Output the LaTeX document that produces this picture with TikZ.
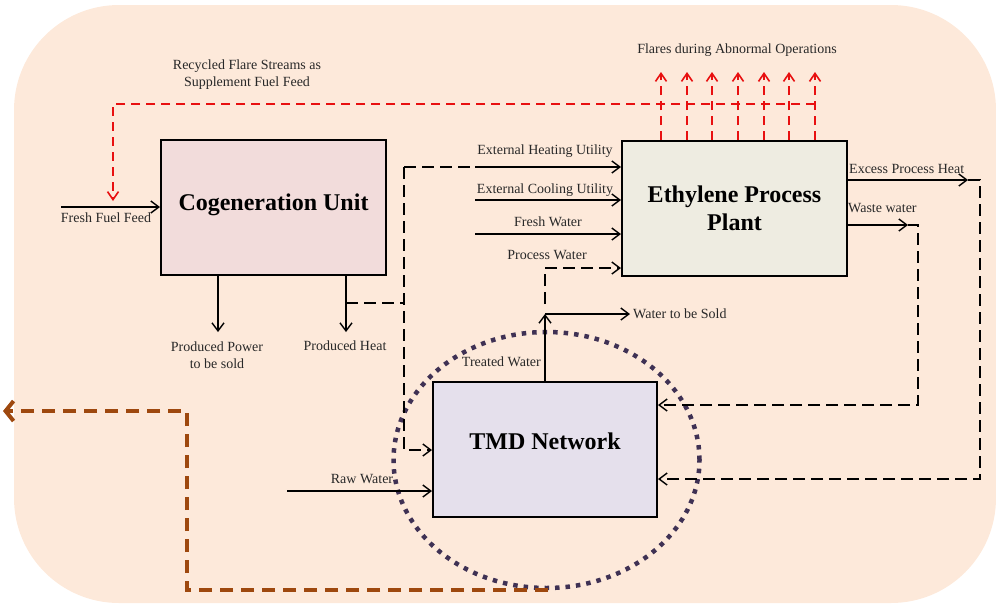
\documentclass[tikz,border=0pt]{standalone}
\usepackage{fontspec}
\setmainfont{Liberation Serif}
\usetikzlibrary{arrows.meta,shapes.geometric}
\definecolor{bgpeach}{RGB}{253,233,218}
\definecolor{cogfill}{RGB}{242,220,219}
\definecolor{ethfill}{RGB}{238,236,225}
\definecolor{tmdfill}{RGB}{229,224,236}
\definecolor{flarered}{RGB}{232,16,16}
\definecolor{loopbrown}{RGB}{158,72,14}
\definecolor{ringpurple}{RGB}{63,49,84}
\definecolor{txtgray}{RGB}{40,40,40}
\begin{document}
\begin{tikzpicture}[x=1pt,y=-1pt,
  unitbox/.style={draw=black,line width=2pt,minimum width=225pt,minimum height=135pt,
    font=\fontsize{24}{26}\selectfont\bfseries,align=center,inner sep=0pt},
  lbl/.style={font=\fontsize{14}{17}\selectfont,text=txtgray,inner sep=0pt,align=center},
  arr/.style={line width=1.4pt,-{Straight Barb[length=8pt,width=12pt,line width=1.4pt]}},
  blackdash/.style={line width=1.4pt,dash pattern=on 12pt off 6pt},
  blackdasharr/.style={blackdash,-{Straight Barb[length=8pt,width=12pt,line width=1.4pt]}},
  reddash/.style={draw=flarered,line width=1.6pt,dash pattern=on 9pt off 6pt},
  reddasharr/.style={reddash,-{Straight Barb[length=8pt,width=11pt,line width=1.6pt]}},
  brownloop/.style={draw=loopbrown,line width=4pt,dash pattern=on 13pt off 8pt,
    -{Straight Barb[length=8pt,width=20pt,line width=4pt]}},
  ring/.style={draw=ringpurple,line width=4.5pt,dash pattern=on 4.5pt off 6pt}
]
\useasboundingbox (0,0) rectangle (996,603);
\fill[bgpeach,rounded corners=105pt] (14,5) rectangle (996,603);

% units
\node[unitbox,fill=cogfill,text depth=9pt] (cog) at (273.5,207) {Cogeneration Unit};
\node[unitbox,fill=ethfill] (eth) at (734.5,208.5) {Ethylene Process\\[2pt]Plant};
\node[unitbox,fill=tmdfill,minimum width=224pt,text depth=17pt] (tmd) at (545,449.5) {TMD Network};

% TMD ring
\node[ring,ellipse,minimum width=306pt,minimum height=256pt] (ringnode) at (546.5,460) {};

% brown loop
\coordinate (loopstart) at (548,590);
\coordinate (loopend) at (3,411);
\draw[brownloop] (loopstart) -- (187,590) -- (187,411) -- (loopend);

% flares
\foreach \fx in {661,687,712,738,764,789,815}{
  \draw[reddasharr] (\fx,0 |- eth.north) -- (\fx,72);
}
\coordinate (recyclefeed) at (113,201);
\draw[reddasharr] (815,104) -- (113,104) -- (recyclefeed);
\node[lbl] (flarelbl) at (737,50) {Flares during Abnormal Operations};
\node[lbl] (recyclbl) at (247,74.5) {Recycled Flare Streams as\\Supplement Fuel Feed};

% fresh fuel
\coordinate (fuelin) at (61,207);
\draw[arr] (fuelin) -- (cog.west |- fuelin);
\node[lbl] (fuellbl) at (106,218) {Fresh Fuel Feed};

% cogeneration outputs
\coordinate (powerout) at (218,332);
\coordinate (heatout) at (346,332);
\draw[arr] (218,0 |- cog.south) -- (powerout);
\draw[arr] (346,0 |- cog.south) -- (heatout);
\node[lbl] (powerlbl) at (217,355) {Produced Power\\to be sold};
\node[lbl] (heatlbl) at (345,346) {Produced Heat};

% produced heat dashed distribution
\coordinate (heattap) at (346,303);
\coordinate (heatbus) at (404,303);
\coordinate (heattop) at (404,167);
\coordinate (heatjoin) at (475,167);
\draw[blackdash] (heattap) -- (heatbus);
\draw[blackdasharr] (heattop) -- (404,450) -- (tmd.west |- 0,450);
\draw[blackdash] (heattop) -- (heatjoin);
\draw[arr] (heatjoin) -- (eth.west |- heatjoin);
\node[lbl] (heatutil) at (545,151) {External Heating Utility};

% cooling utility, fresh water
\coordinate (coolin) at (475,200);
\draw[arr] (coolin) -- (eth.west |- coolin);
\node[lbl] (coolutil) at (545,190) {External Cooling Utility};
\coordinate (freshin) at (475,234);
\draw[arr] (freshin) -- (eth.west |- freshin);
\node[lbl] (freshlbl) at (548,222) {Fresh Water};

% treated water / process water / water to be sold
\coordinate (soldsplit) at (545,314);
\coordinate (soldout) at (630,314);
\draw[arr] (545,0 |- tmd.north) -- (soldsplit);
\draw[arr] (soldsplit) -- (soldout);
\node[lbl,anchor=west] (soldlbl) at (633,314) {Water to be Sold};
\node[lbl,anchor=east] (treatedlbl) at (541,362) {Treated Water};
\draw[blackdasharr] (545,304) -- (545,268) -- (eth.west |- 0,268);
\node[lbl] (processlbl) at (547,255) {Process Water};

% raw water
\coordinate (rawin) at (287,491);
\draw[arr] (rawin) -- (tmd.west |- rawin);
\node[lbl] (rawlbl) at (362,479) {Raw Water};

% excess process heat
\coordinate (excesstip) at (968,180);
\draw[arr] (eth.east |- excesstip) -- (excesstip);
\draw[blackdasharr] (excesstip) -- (980,180) -- (980,479) -- (tmd.east |- 0,479);
\node[lbl,anchor=west] (excesslbl) at (849,169) {Excess Process Heat};

% waste water
\coordinate (wastetip) at (908,225);
\draw[arr] (eth.east |- wastetip) -- (wastetip);
\draw[blackdasharr] (wastetip) -- (918,225) -- (918,405) -- (tmd.east |- 0,405);
\node[lbl,anchor=west] (wastelbl) at (848,208) {Waste water};
\end{tikzpicture}
\end{document}
